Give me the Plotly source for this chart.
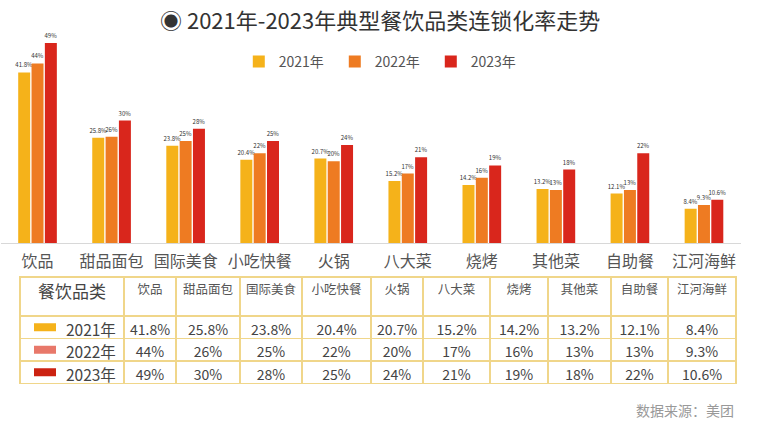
import plotly.graph_objects as go

categories = ["饮品", "甜品面包", "国际美食", "小吃快餐", "火锅", "八大菜", "烧烤", "其他菜", "自助餐", "江河海鲜"]
years = ["2021年", "2022年", "2023年"]
v2021 = [41.8, 25.8, 23.8, 20.4, 20.7, 15.2, 14.2, 13.2, 12.1, 8.4]
v2022 = [44, 26, 25, 22, 20, 17, 16, 13, 13, 9.3]
v2023 = [49, 30, 28, 25, 24, 21, 19, 18, 22, 10.6]
series = [v2021, v2022, v2023]
bar_colors = ["#F5B21A", "#EE7B22", "#D9261C"]
table_swatch_colors = ["#F5B21A", "#E8786A", "#CC2211"]

FONT = "Noto Sans CJK SC"
W, H = 758, 433

def fmt(v):
    return f"{v:g}%"

fig = go.Figure()
for name, vals, col in zip(years, series, bar_colors):
    fig.add_trace(go.Bar(
        x=categories, y=vals, name=name, marker_color=col,
        marker_line_width=0,
        text=[fmt(v) for v in vals], textposition="outside",
        textfont=dict(size=6, color="#333", family=FONT),
        constraintext="none", cliponaxis=False,
    ))

# table
TABLE_TOP = 277
HEADER_H = 39
ROW_H = 22.5
header_vals = ["餐饮品类"] + categories
row_labels = ["\u3000\u3000\u00a0\u00a0" + y for y in years]
cell_vals = [row_labels] + [[fmt(s[i]) for s in series] for i in range(len(categories))]
colw = [104, 52, 64, 62, 69, 52, 67, 58, 63, 57, 68]

fig.add_trace(go.Table(
    domain=dict(x=[20/W, 736/W], y=[0.02, 1 - TABLE_TOP/H]),
    columnwidth=colw,
    header=dict(values=header_vals, height=HEADER_H, align="center",
                fill_color="white", line_color="#F0D68A", line_width=1.2,
                font=dict(family=FONT, size=[17] + [12.5]*10, color=["#444"] + ["#555"]*10)),
    cells=dict(values=cell_vals, height=ROW_H, align=["left"] + ["center"]*10,
               fill_color="white", line_color="#F0D68A", line_width=1.2,
               font=dict(family=FONT, size=[15.5] + [14]*10, color="#444")),
))

# legend swatches inside the first table column
shapes = []
for i, c in enumerate(table_swatch_colors):
    yc = TABLE_TOP + HEADER_H + ROW_H * (i + 0.5)
    shapes.append(dict(type="rect", xref="paper", yref="paper",
                       x0=34/W, x1=56/W, y0=1 - (yc + 4)/H, y1=1 - (yc - 4)/H,
                       fillcolor=c, line_width=0, layer="above"))

fig.update_layout(
    width=W, height=H,
    margin=dict(l=0, r=0, t=0, b=0),
    paper_bgcolor="white", plot_bgcolor="white",
    barmode="group", bargap=0.46, bargroupgap=0.1,
    font=dict(family=FONT, color="#444"),
    showlegend=True,
    legend=dict(orientation="h", x=0.505, xanchor="center", y=1 - 46/H, yanchor="top",
                font=dict(size=14, color="#555", family=FONT), entrywidth=51,
                itemwidth=30, bgcolor="rgba(0,0,0,0)"),
    xaxis=dict(domain=[0.5/W, 741/W], showgrid=False, zeroline=False,
               showline=True, linecolor="#D8D8D8", linewidth=1,
               tickfont=dict(size=16, color="#555", family=FONT), ticks="", ticklabelstandoff=4),
    yaxis=dict(domain=[(H-243)/H, (H-18.5)/H], range=[0, 55], visible=False),
    shapes=shapes,
    annotations=[
        dict(text="◉ 2021年-2023年典型餐饮品类连锁化率走势", x=380/W, y=1 - 19/H,
             xref="paper", yref="paper", showarrow=False, xanchor="center", yanchor="middle",
             font=dict(size=22, color="#333", family=FONT)),
        dict(text="数据来源：美团", x=736/W, y=1 - 410/H, xref="paper", yref="paper",
             showarrow=False, xanchor="right", yanchor="middle",
             font=dict(size=14, color="#999", family=FONT)),
    ],
)

fig.write_html("out.html", config={"displayModeBar": False},
               post_script="document.body.style.margin='0';document.body.style.overflow='hidden';")
